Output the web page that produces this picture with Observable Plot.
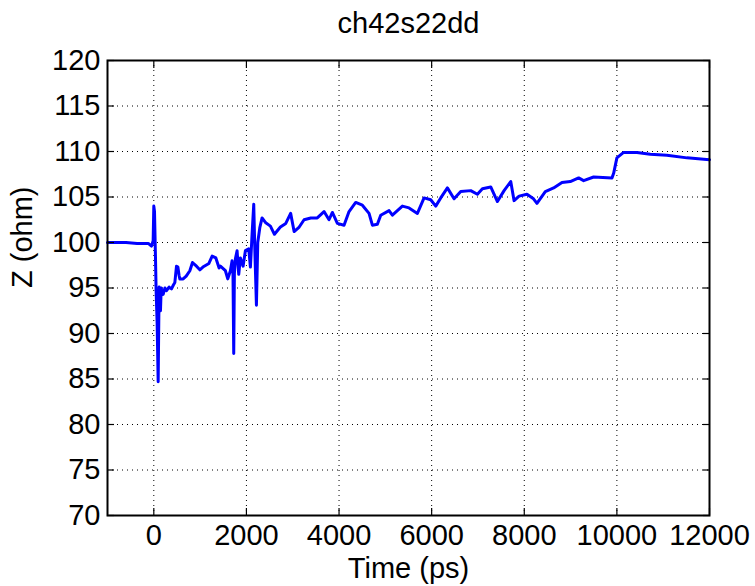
<!DOCTYPE html>
<html>
<head>
<meta charset="utf-8">
<script src="https://cdn.jsdelivr.net/npm/d3@7"></script>
<script src="https://cdn.jsdelivr.net/npm/@observablehq/plot@0.6"></script>
<style>
  html, body { margin: 0; padding: 0; background: #fff; }
  #chart svg { display: block; }
</style>
</head>
<body>
<div id="chart"></div>
<script>
const title = "ch42s22dd";
const xLabel = "Time (ps)";
const yLabel = "Z (ohm)";
const xTicks = [0, 2000, 4000, 6000, 8000, 10000, 12000];
const yTicks = [70, 75, 80, 85, 90, 95, 100, 105, 110, 115, 120];

const time = [-1000,-600,-360,-120,-50,-14,0,15,36,50,72,94,115,130,144,160,175,202,240,274,330,382,420,454,490,520,545,562,634,700,778,835,922,994,1060,1190,1260,1340,1410,1438,1546,1597,1654,1690,1710,1726,1740,1762,1798,1834,1870,1928,1978,2050,2086,2122,2158,2180,2216,2245,2288,2338,2410,2518,2605,2734,2850,2955,3030,3140,3245,3390,3530,3676,3784,3856,3964,4108,4216,4360,4504,4648,4720,4828,4900,5080,5152,5368,5512,5692,5836,5980,6088,6196,6340,6484,6628,6844,6988,7096,7276,7420,7564,7708,7780,7888,8058,8200,8274,8454,8634,8814,8994,9174,9282,9498,9894,9930,10000,10145,10434,10720,11080,11514,12000];
const impedance = [100,100,99.9,99.9,99.6,100.2,104.0,103.4,98.4,94.7,91.1,84.7,95.1,93,92.5,95.0,94.5,94.3,95,94.7,95.1,94.9,95.3,95.6,97.4,97.3,96.4,96.0,96.0,96.3,96.9,97.8,97.4,97.0,97.3,97.7,98.5,98.3,97.2,97.4,96.9,96.0,96.9,98.0,96.5,87.8,96.6,98.2,99.1,96.5,98.3,97.4,99.1,99.3,97.3,100.9,104.2,99.5,93.1,100,101.6,102.7,102.2,101.8,100.9,101.7,102.1,103.2,101.2,101.7,102.5,102.7,102.7,103.4,102.5,103.3,102.1,101.9,103.4,104.4,104.1,103.2,101.9,102.0,103.0,103.5,103.0,104.0,103.8,103.2,104.9,104.7,104.0,104.9,106.0,104.8,105.6,105.7,105.3,105.9,106.1,104.5,105.7,106.7,104.6,105.1,105.3,104.8,104.3,105.6,106.0,106.6,106.7,107.1,106.8,107.2,107.1,107.6,109.3,109.9,109.9,109.7,109.6,109.3,109.1];

const data = time.map((t, i) => ({t, z: impedance[i]}));

const fontSize = 29;
const gridStyle = {stroke: "black", strokeOpacity: 1, strokeWidth: 1, strokeDasharray: "1,4"};

const chart = Plot.plot({
  width: 755,
  height: 586,
  marginLeft: 107,
  marginRight: 46,
  marginTop: 60,
  marginBottom: 71,
  style: {fontFamily: "'Liberation Sans', Arial, Helvetica, sans-serif", fontSize: fontSize + "px", color: "black", background: "white"},
  x: {domain: [-1000, 12000]},
  y: {domain: [70, 120]},
  marks: [
    Plot.gridX(xTicks, gridStyle),
    Plot.gridY(yTicks, gridStyle),
    Plot.line(data, {x: "t", y: "z", stroke: "#0000ff", strokeWidth: 3, strokeLinejoin: "round"}),
    Plot.axisX(xTicks, {anchor: "bottom", tickSize: -7, tickPadding: 16, tickFormat: d3.format("d"), label: null, fontSize, strokeWidth: 1.2}),
    Plot.axisX(xTicks, {anchor: "top", tickSize: -7, tickFormat: () => "", label: null, strokeWidth: 1.2}),
    Plot.axisY(yTicks, {anchor: "left", tickSize: -7, tickPadding: 14, tickFormat: d3.format("d"), label: null, fontSize, strokeWidth: 1.2}),
    Plot.axisY(yTicks, {anchor: "right", tickSize: -7, tickFormat: () => "", label: null, strokeWidth: 1.2}),
    Plot.frame({stroke: "black", strokeWidth: 2}),
    Plot.text([xLabel], {text: d => d, frameAnchor: "bottom", dy: 53, fontSize, lineAnchor: "middle"}),
    Plot.text([yLabel], {text: d => d, frameAnchor: "left", dx: -85, rotate: -90, fontSize, lineAnchor: "middle"}),
    Plot.text([title], {text: d => d, frameAnchor: "top", dy: -37, fontSize, lineAnchor: "middle"})
  ]
});
document.getElementById("chart").appendChild(chart);
</script>
</body>
</html>
